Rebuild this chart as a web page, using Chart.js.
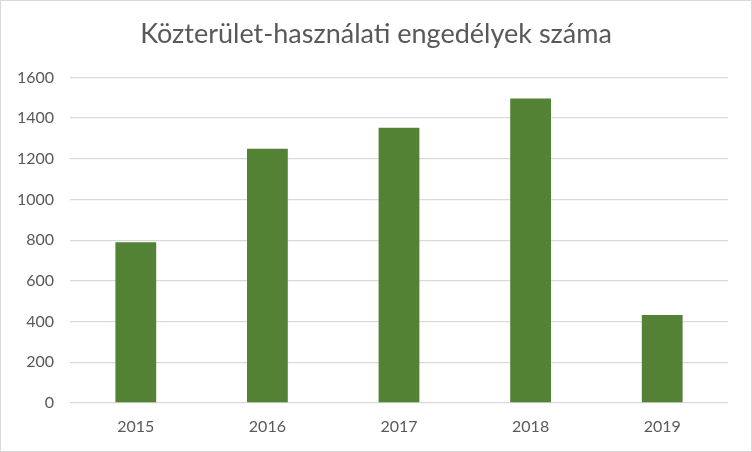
<!DOCTYPE html>
<html>
<head>
<meta charset="utf-8">
<script src="https://cdn.jsdelivr.net/npm/chart.js@4.4.1/dist/chart.umd.min.js"></script>
<style>
  html, body { margin: 0; padding: 0; background: #fff; }
  #wrap { width: 752px; height: 452px; }
</style>
</head>
<body>
<div id="wrap"><canvas id="chart" width="752" height="452"></canvas></div>
<script>
// chart data
const years = ['2015', '2016', '2017', '2018', '2019'];
const permits = [790, 1250, 1352, 1496, 432];
const yTicks = [0, 200, 400, 600, 800, 1000, 1200, 1400, 1600];

const chartTitle = 'Közterület-használati engedélyek száma';

// white background + thin gray frame like the spreadsheet chart
const frame = {
    id: 'frame',
    beforeDraw(chart) {
        const c = chart.ctx;
        c.save();
        c.fillStyle = '#ffffff';
        c.fillRect(0, 0, chart.width, chart.height);
        c.strokeStyle = '#d9d9d9';
        c.lineWidth = 1;
        c.strokeRect(0.5, 0.5, chart.width - 1, chart.height - 1);
        c.restore();
    }
};

new Chart(document.getElementById('chart'), {
    type: 'bar',
    data: {
        labels: years,
        datasets: [{
            data: permits,
            backgroundColor: '#548235',
            borderWidth: 0,
            barPercentage: 0.31,
            categoryPercentage: 1
        }]
    },
    options: {
        responsive: false,
        animation: false,
        layout: { padding: { left: 0, right: 0, top: 11, bottom: 0 } },
        plugins: {
            legend: { display: false },
            tooltip: { enabled: false },
            title: {
                display: true,
                text: chartTitle,
                color: '#595959',
                font: { family: 'Lato', size: 27, weight: 'normal' },
                padding: { top: 7, bottom: 27 }
            }
        },
        scales: {
            x: {
                grid: { display: false, drawTicks: false },
                border: { display: false },
                ticks: {
                    color: '#595959',
                    font: { family: 'Lato', size: 16 },
                    padding: 14
                },
                // keep the plot bottom where the original has it
                afterFit(axis) { axis.height = 49; }
            },
            y: {
                min: 0,
                max: 1600,
                afterBuildTicks(axis) {
                    axis.ticks = yTicks.map(v => ({ value: v }));
                },
                grid: { color: '#d9d9d9', lineWidth: 1.3, drawTicks: false },
                border: { display: false },
                ticks: {
                    color: '#595959',
                    font: { family: 'Lato', size: 16 },
                    padding: 16,
                    callback: v => String(v)
                },
                afterFit(axis) { axis.width = 70; }
            },
            // empty right-hand strip so the plot ends where the original does
            spacer: {
                type: 'linear',
                position: 'right',
                grid: { display: false, drawTicks: false },
                border: { display: false },
                ticks: { display: false },
                afterFit(axis) { axis.width = 24; }
            }
        }
    },
    plugins: [frame]
});
</script>
</body>
</html>
